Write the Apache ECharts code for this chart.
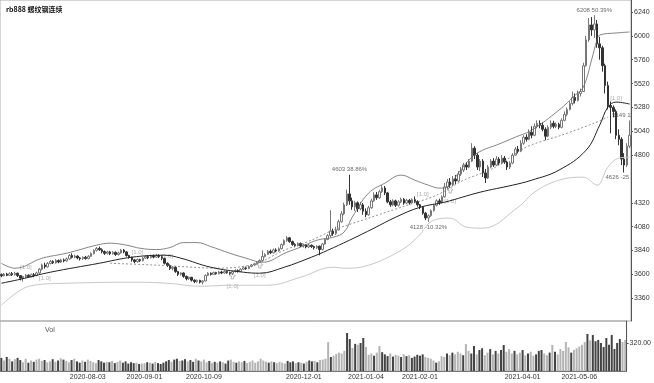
<!DOCTYPE html>
<html>
<head>
<meta charset="utf-8">
<script src="https://cdn.jsdelivr.net/npm/echarts@6/dist/echarts.min.js"></script>
<style>
  html, body { margin: 0; padding: 0; background: #fff; }
  #chart { width: 654px; height: 383px; }
</style>
</head>
<body>
<div id="chart"></div>
<script>
// trading days, 2020-06-16 .. 2021-05-31
var dates = [
  '2020-06-16','2020-06-17','2020-06-18','2020-06-19','2020-06-22','2020-06-23','2020-06-24','2020-06-29','2020-06-30',
  '2020-07-01','2020-07-02','2020-07-03','2020-07-06','2020-07-07','2020-07-08','2020-07-09','2020-07-10','2020-07-13','2020-07-14',
  '2020-07-15','2020-07-16','2020-07-17','2020-07-20','2020-07-21','2020-07-22','2020-07-23','2020-07-24','2020-07-27','2020-07-28',
  '2020-07-29','2020-07-30','2020-07-31',
  '2020-08-03','2020-08-04','2020-08-05','2020-08-06','2020-08-07','2020-08-10','2020-08-11','2020-08-12','2020-08-13','2020-08-14',
  '2020-08-17','2020-08-18','2020-08-19','2020-08-20','2020-08-21','2020-08-24','2020-08-25','2020-08-26','2020-08-27','2020-08-28','2020-08-31',
  '2020-09-01','2020-09-02','2020-09-03','2020-09-04','2020-09-07','2020-09-08','2020-09-09','2020-09-10','2020-09-11','2020-09-14',
  '2020-09-15','2020-09-16','2020-09-17','2020-09-18','2020-09-21','2020-09-22','2020-09-23','2020-09-24','2020-09-25','2020-09-28',
  '2020-09-29','2020-09-30',
  '2020-10-09','2020-10-12','2020-10-13','2020-10-14','2020-10-15','2020-10-16','2020-10-19','2020-10-20','2020-10-21','2020-10-22',
  '2020-10-23','2020-10-26','2020-10-27','2020-10-28','2020-10-29','2020-10-30',
  '2020-11-02','2020-11-03','2020-11-04','2020-11-05','2020-11-06','2020-11-09','2020-11-10','2020-11-11','2020-11-12','2020-11-13',
  '2020-11-16','2020-11-17','2020-11-18','2020-11-19','2020-11-20','2020-11-23','2020-11-24','2020-11-25','2020-11-26','2020-11-27','2020-11-30',
  '2020-12-01','2020-12-02','2020-12-03','2020-12-04','2020-12-07','2020-12-08','2020-12-09','2020-12-10','2020-12-11','2020-12-14',
  '2020-12-15','2020-12-16','2020-12-17','2020-12-18','2020-12-21','2020-12-22','2020-12-23','2020-12-24','2020-12-25','2020-12-28',
  '2020-12-29','2020-12-30','2020-12-31',
  '2021-01-04','2021-01-05','2021-01-06','2021-01-07','2021-01-08','2021-01-11','2021-01-12','2021-01-13','2021-01-14','2021-01-15',
  '2021-01-18','2021-01-19','2021-01-20','2021-01-21','2021-01-22','2021-01-25','2021-01-26','2021-01-27','2021-01-28','2021-01-29',
  '2021-02-01','2021-02-02','2021-02-03','2021-02-04','2021-02-05','2021-02-08','2021-02-09','2021-02-10','2021-02-18','2021-02-19',
  '2021-02-22','2021-02-23','2021-02-24','2021-02-25','2021-02-26',
  '2021-03-01','2021-03-02','2021-03-03','2021-03-04','2021-03-05','2021-03-08','2021-03-09','2021-03-10','2021-03-11','2021-03-12',
  '2021-03-15','2021-03-16','2021-03-17','2021-03-18','2021-03-19','2021-03-22','2021-03-23','2021-03-24','2021-03-25','2021-03-26',
  '2021-03-29','2021-03-30','2021-03-31',
  '2021-04-01','2021-04-02','2021-04-06','2021-04-07','2021-04-08','2021-04-09','2021-04-12','2021-04-13','2021-04-14','2021-04-15',
  '2021-04-16','2021-04-19','2021-04-20','2021-04-21','2021-04-22','2021-04-23','2021-04-26','2021-04-27','2021-04-28','2021-04-29','2021-04-30',
  '2021-05-06','2021-05-07','2021-05-10','2021-05-11','2021-05-12','2021-05-13','2021-05-14','2021-05-17','2021-05-18','2021-05-19',
  '2021-05-20','2021-05-21','2021-05-24','2021-05-25','2021-05-26','2021-05-27','2021-05-28','2021-05-31'
];

// [open, close, low, high]
var ohlc = [
  [3598,3586,3572,3610],[3586,3604,3580,3614],[3604,3590,3582,3616],[3590,3608,3586,3620],[3608,3596,3584,3624],
  [3596,3612,3590,3626],[3612,3588,3574,3618],[3588,3562,3540,3594],[3562,3578,3528,3586],[3578,3592,3562,3604],
  [3592,3576,3565,3600],[3576,3598,3570,3608],[3598,3588,3572,3614],[3588,3614,3582,3626],[3614,3652,3604,3664],
  [3652,3694,3640,3708],[3694,3676,3658,3718],[3676,3710,3668,3724],[3710,3730,3700,3744],[3730,3716,3704,3742],
  [3716,3740,3708,3754],[3740,3724,3712,3750],[3724,3746,3716,3758],[3746,3736,3722,3760],[3736,3756,3728,3770],
  [3756,3790,3748,3804],[3790,3772,3760,3812],[3772,3784,3762,3798],[3784,3766,3752,3792],[3766,3758,3740,3776],
  [3758,3772,3746,3782],[3772,3760,3748,3786],[3760,3782,3752,3794],[3782,3810,3776,3822],[3810,3842,3800,3852],
  [3842,3862,3830,3876],[3862,3848,3836,3880],[3848,3830,3812,3862],[3830,3812,3796,3840],[3812,3826,3800,3838],
  [3826,3808,3794,3836],[3808,3822,3798,3834],[3822,3800,3786,3830],[3800,3816,3790,3828],[3816,3844,3808,3856],
  [3844,3826,3812,3856],[3826,3790,3778,3834],[3790,3772,3758,3798],[3772,3746,3728,3780],[3746,3728,3712,3756],
  [3728,3750,3718,3760],[3750,3738,3724,3758],[3738,3764,3730,3774],[3764,3780,3756,3790],[3780,3768,3754,3794],
  [3768,3786,3760,3798],[3786,3774,3762,3800],[3774,3790,3766,3806],[3790,3778,3764,3802],[3778,3760,3744,3792],
  [3760,3712,3700,3768],[3712,3690,3674,3722],[3690,3660,3644,3700],[3660,3672,3640,3684],[3672,3628,3616,3680],
  [3628,3600,3584,3636],[3600,3614,3588,3622],[3614,3580,3566,3620],[3580,3556,3540,3588],[3556,3570,3544,3578],
  [3570,3542,3528,3576],[3542,3528,3512,3550],[3528,3540,3516,3548],[3540,3522,3508,3546],[3522,3534,3500,3540],
  [3534,3590,3530,3600],[3590,3612,3582,3622],[3612,3600,3588,3620],[3600,3618,3594,3628],[3618,3606,3596,3626],
  [3606,3624,3600,3634],[3624,3614,3602,3636],[3614,3630,3608,3640],[3630,3618,3606,3638],[3618,3610,3596,3628],
  [3610,3628,3594,3636],[3628,3640,3620,3652],[3640,3630,3618,3650],[3630,3652,3624,3662],[3652,3666,3644,3676],
  [3666,3658,3646,3678],[3658,3680,3652,3690],[3680,3694,3672,3704],[3694,3706,3686,3716],[3706,3722,3698,3732],
  [3722,3740,3714,3752],[3740,3780,3732,3842],[3780,3800,3770,3812],[3800,3832,3794,3846],[3832,3818,3804,3850],
  [3818,3846,3810,3860],[3846,3836,3822,3862],[3836,3858,3828,3872],[3858,3900,3850,3912],[3900,3940,3890,3952],
  [3940,3968,3928,3986],[3968,3930,3918,3976],[3930,3902,3888,3940],[3902,3890,3872,3914],[3890,3912,3882,3922],
  [3912,3886,3874,3920],[3886,3898,3870,3908],[3898,3876,3862,3904],[3876,3894,3866,3906],[3894,3880,3866,3900],
  [3880,3868,3850,3890],[3868,3884,3856,3894],[3884,3850,3792,3890],[3850,3906,3842,3916],[3906,3952,3898,3962],
  [3952,3990,3944,4004],[3990,4036,3976,4246],[4036,4010,3988,4060],[4010,4048,3996,4080],[4048,4130,4040,4150],
  [4130,4210,4120,4236],[4210,4300,4196,4322],[4300,4410,4288,4452],[4410,4340,4300,4603],[4340,4280,4250,4372],
  [4280,4320,4236,4340],[4320,4260,4228,4334],[4260,4300,4246,4330],[4300,4236,4200,4318],[4236,4200,4176,4264],
  [4200,4270,4190,4290],[4270,4340,4260,4360],[4340,4400,4330,4426],[4400,4372,4350,4430],[4372,4432,4360,4450],
  [4432,4470,4420,4498],[4470,4420,4398,4490],[4420,4330,4316,4430],[4330,4300,4280,4350],[4300,4340,4286,4356],
  [4340,4296,4278,4352],[4296,4330,4282,4346],[4330,4356,4316,4372],[4356,4318,4300,4368],[4318,4346,4306,4360],
  [4346,4320,4302,4358],[4320,4352,4312,4366],[4352,4334,4318,4384],[4334,4300,4282,4346],[4300,4276,4256,4310],
  [4276,4216,4200,4282],[4216,4168,4146,4228],[4168,4190,4128,4204],[4190,4242,4180,4254],[4242,4296,4232,4310],
  [4296,4340,4284,4356],[4340,4322,4300,4362],[4322,4380,4314,4396],[4380,4480,4372,4520],[4480,4530,4460,4560],
  [4530,4500,4470,4570],[4500,4560,4488,4590],[4560,4540,4510,4600],[4540,4610,4530,4640],[4610,4650,4590,4680],
  [4650,4700,4630,4722],[4700,4680,4650,4730],[4680,4740,4668,4760],[4740,4870,4730,4920],[4870,4800,4760,4890],
  [4800,4680,4650,4820],[4680,4740,4640,4760],[4740,4620,4580,4760],[4620,4570,4520,4660],[4570,4680,4560,4700],
  [4680,4740,4668,4760],[4740,4700,4680,4770],[4700,4760,4690,4790],[4760,4720,4700,4780],[4720,4770,4706,4800],
  [4770,4730,4712,4792],[4730,4680,4650,4744],[4680,4720,4660,4738],[4720,4800,4710,4820],[4800,4860,4790,4880],
  [4860,4840,4816,4892],[4840,4920,4830,4950],[4920,4980,4904,5000],[4980,4960,4936,5010],[4960,5030,4950,5060],
  [5030,5000,4970,5090],[5000,5090,4990,5120],[5090,5120,5070,5150],[5120,5100,5070,5150],[5100,5060,5040,5130],
  [5060,4990,4950,5080],[4990,5080,4980,5100],[5080,5120,5060,5150],[5120,5090,5070,5146],[5090,5110,5072,5130],
  [5110,5080,5060,5126],[5080,5150,5070,5170],[5150,5210,5140,5240],[5210,5260,5190,5280],[5260,5320,5250,5340],
  [5320,5380,5300,5440],[5380,5350,5320,5420],[5350,5420,5340,5450],[5420,5440,5390,5470],[5440,5700,5440,5730],
  [5700,5960,5690,6000],[5960,6110,5940,6180],[6110,6060,6000,6190],[6060,6120,5980,6208],[6120,5920,5880,6160],
  [5920,5880,5760,5990],[5880,5700,5640,5900],[5700,5500,5420,5720],[5500,5300,5260,5540],[5300,5280,5020,5340],
  [5280,5240,5180,5300],[5240,5000,4960,5260],[5000,4960,4900,5060],[4960,4760,4700,4980],[4760,4700,4626,4820],
  [4700,4890,4680,4920],[4890,5000,4870,5149]
];

var volumes = [
  150,120,160,140,110,135,150,125,100,140, 95,120,105,130,140,115,125,100,110,135,
  105,120,145,130,115,100,125,140,110,95, 120,105,130,115,100,90,125,110,95,105,
  100,115,90,105,120,95,110,85,100,90, 95,80,85,90,100,95,85,105,90,80,
  95,110,125,105,130,140,115,120,135,110, 125,105,140,120,110,130,100,115,90,105,
  95,110,100,85,120,130,105,95,110,100, 115,90,105,120,95,110,140,120,105,95,
  110,100,90,105,95,85,115,100,110,90, 100,95,85,105,120,110,115,100,125,130,
  140,330,160,175,195,210,200,230,434,365, 263,310,300,320,377,274,185,200,175,210,
  286,215,190,170,200,165,185,175,160,190, 170,180,150,165,185,175,190,160,150,140,
  120,95,110,170,160,200,180,210,190,220, 200,180,308,230,200,286,190,240,260,180,
  210,250,190,230,200,240,297,220,250,200, 230,190,210,240,180,200,220,175,190,230,
  240,200,180,210,297,220,190,250,230,331, 270,210,240,260,280,300,330,423,350,411,
  340,355,320,274,377,300,411,251,320,365, 331,354
];

// indicator lines read at [day index, price]
var upperBand = [[0,3712],[5,3662],[15,3763],[24,3813],[35,3894],[40,3914],[46,3894],[51,3863],[57,3850],
  [62,3870],[67,3920],[72,3920],[77,3880],[84,3813],[90,3763],[96,3722],[105,3823],[110,3874],[116,3944],
  [122,3974],[126,4025],[129,4176],[135,4417],[141,4518],[147,4599],[152,4548],[157,4498],[161,4468],
  [164,4478],[168,4619],[173,4780],[177,4850],[182,4901],[189,4981],[195,5052],[205,5253],[211,5404],
  [214,5485],[217,5757],[219,5958],[220,6008],[226,6029],[231,6039]];
var maLine = [[0,3511],[7,3551],[18,3622],[36,3712],[48,3773],[60,3793],[66,3763],[77,3672],[89,3622],
  [95,3612],[104,3672],[114,3773],[120,3843],[128,3944],[137,4065],[145,4176],[154,4276],[163,4327],
  [176,4427],[188,4498],[195,4548],[205,4649],[215,4850],[220,5102],[223,5283],[226,5334],[231,5314]];
var trendLine = [[40,3712],[58,3692],[80,3662],[93,3702],[104,3843],[114,3944],[122,4045],[135,4166],
  [147,4276],[160,4397],[170,4548],[181,4669],[193,4881],[206,5001],[218,5122],[223,5183]];
var lowerBand = [[0,3290],[7,3441],[12,3491],[24,3511],[48,3521],[61,3511],[73,3481],[85,3491],[98,3491],
  [110,3571],[122,3672],[126,3662],[135,3692],[147,3843],[153,3974],[159,4146],[165,4166],[171,4075],
  [177,4065],[190,4276],[196,4427],[205,4548],[214,4578],[219,4498],[223,4679],[227,4770],[231,4780]];

var peakLabels = [[128,4603,'4603 38.86%'],[218,6208,'6208 50.39%'],[231,5149,'5149 11.31%']];
var troughLabels = [[157,4128,'4128 -10.32%'],[229,4626,'4626 -25.48%']];
var signalMarks = [[9,3675],[16,3564],[50,3826],[61,3785],[85,3484],[95,3594],[155,4409],[165,4335],[226,5375]];
var arrowMarks = [[85,3584],[95,3695],[165,4449]];

var priceTicks = [3360,3600,3840,4080,4320,4800,5040,5280,5520,5760,6000,6240];
var volTicks = [320];
var tickDates = ['2020-07-01','2020-08-03','2020-09-01','2020-10-09','2020-11-02','2020-12-01',
  '2021-01-04','2021-02-01','2021-03-01','2021-04-01','2021-05-06'];
var labelDates = ['2020-08-03','2020-09-01','2020-10-09','2020-12-01','2021-01-04','2021-02-01',
  '2021-04-01','2021-05-06'];

function toPoints(list) {
    return list.map(function (p) { return [dates[p[0]], p[1]]; });
}
function toLabels(list) {
    return list.map(function (p) { return { value: [dates[p[0]], p[1]], label: { formatter: p[2] } }; });
}

var font = 'Liberation Sans, Arial, sans-serif';
var chart = echarts.init(document.getElementById('chart'));

var option = {
    animation: false,
    backgroundColor: '#fff',
    textStyle: { fontFamily: font },
    title: [
        { text: 'rb888 螺纹钢连续', left: 1, top: 1, textStyle: { fontSize: 7, fontWeight: 'bold', color: '#111', fontFamily: 'Noto Sans CJK SC' } },
        { text: 'Vol', left: 40, top: 322, textStyle: { fontSize: 7, fontWeight: 'normal', color: '#555', fontFamily: font } }
    ],
    grid: [
        { left: 0, top: 0, width: 631, height: 321, show: true, borderColor: '#aaa', borderWidth: 1 },
        { left: 0, top: 321, width: 631, height: 50, show: true, borderColor: '#aaa', borderWidth: 1 }
    ],
    xAxis: [
        { type: 'category', data: dates, gridIndex: 0, axisLine: { show: false }, axisTick: { show: false }, axisLabel: { show: false } },
        {
            type: 'category', data: dates, gridIndex: 1,
            axisLine: { lineStyle: { color: '#777' } },
            axisTick: { alignWithLabel: true, length: 3, lineStyle: { color: '#777' },
                interval: function (i, v) { return tickDates.indexOf(v) >= 0; } },
            axisLabel: { fontSize: 7, color: '#333', margin: 3,
                interval: function (i, v) { return labelDates.indexOf(v) >= 0; } }
        }
    ],
    yAxis: [
        {
            gridIndex: 0, position: 'right', min: 3131, max: 6361, z: 60,
            splitLine: { show: false },
            axisLine: { show: true, lineStyle: { color: '#555' } },
            axisTick: { show: true, length: 2, customValues: priceTicks, lineStyle: { color: '#555' } },
            axisLabel: { customValues: priceTicks, fontSize: 7, color: '#333', margin: 3,
                formatter: function (v) { return String(v); } }
        },
        {
            gridIndex: 1, position: 'right', min: 0, max: 571, z: 60,
            splitLine: { show: false },
            axisLine: { show: true, lineStyle: { color: '#555' } },
            axisTick: { show: true, length: 2, customValues: volTicks, lineStyle: { color: '#555' } },
            axisLabel: { customValues: volTicks, fontSize: 7, color: '#333', margin: 3,
                formatter: function (v) { return v.toFixed(2); } }
        }
    ],
    graphic: [
        { type: 'rect', left: 632, top: 0, shape: { width: 22, height: 321 }, style: { fill: '#fff' }, z: 50, silent: true }
    ],
    series: [
        {
            type: 'candlestick', data: ohlc, xAxisIndex: 0, yAxisIndex: 0, barWidth: 2,
            itemStyle: { color: '#fff', color0: '#333', borderColor: '#777', borderColor0: '#333', borderWidth: 1 }
        },
        { type: 'line', data: toPoints(upperBand), smooth: 0.4, symbol: 'none', lineStyle: { color: '#666', width: 0.8 } },
        { type: 'line', data: toPoints(lowerBand), smooth: 0.4, symbol: 'none', lineStyle: { color: '#c8c8c8', width: 1 } },
        { type: 'line', data: toPoints(trendLine), smooth: 0.3, symbol: 'none', lineStyle: { color: '#777', width: 0.8, type: [2, 2] } },
        { type: 'line', data: toPoints(maLine), smooth: 0.4, symbol: 'none', lineStyle: { color: '#222', width: 1 } },
        {
            type: 'bar', data: volumes, xAxisIndex: 1, yAxisIndex: 1, barWidth: 2,
            itemStyle: { color: function (p) { var k = ohlc[p.dataIndex]; return k[1] >= k[0] ? '#b4b4b4' : '#444'; } }
        },
        {
            type: 'scatter', data: toLabels(peakLabels), symbolSize: 0,
            label: { show: true, position: 'top', distance: 2, fontSize: 6, color: '#444' }
        },
        {
            type: 'scatter', data: toLabels(troughLabels), symbolSize: 0,
            label: { show: true, position: 'bottom', distance: 2, fontSize: 6, color: '#444' }
        },
        {
            type: 'scatter', data: toPoints(signalMarks), symbolSize: 0,
            label: { show: true, position: 'inside', formatter: '[1.0]', fontSize: 6, color: '#999' }
        },
        {
            type: 'scatter', data: toPoints(arrowMarks), symbol: 'path://M5,0 L10,5 L7,5 L7,10 L3,10 L3,5 L0,5 Z',
            symbolSize: [6, 6], itemStyle: { color: 'rgba(0,0,0,0)', borderColor: '#999', borderWidth: 0.8 }
        }
    ]
};

chart.setOption(option);
</script>
</body>
</html>
